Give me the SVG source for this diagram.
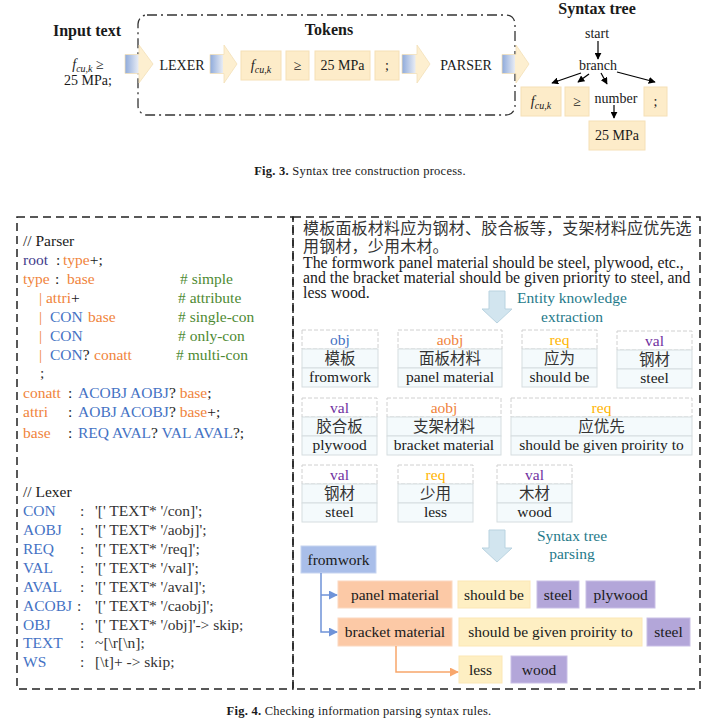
<svg xmlns="http://www.w3.org/2000/svg" width="707" height="721" viewBox="0 0 707 721">
<style>
text{font-family:"Liberation Serif","Noto Sans CJK SC",serif;fill:#1a1a1a}
.b{font-weight:bold}
.t14{font-size:14px}
.t15{font-size:15.5px}
.t16{font-size:16px}
.cap{font-size:12.5px;letter-spacing:0.25px}
.tok{fill:#FDECC9;stroke:#F5E0B6;stroke-width:1}
.blu{fill:#4472C4}.org{fill:#F0843C}.nav{fill:#3E3A8A}.grn{fill:#4E8A33}.gry{fill:#333}.gold{fill:#FFB400}.pur{fill:#7030A0}.teal{fill:#1F7A8A}
.hd{fill:#fff;stroke:#D0D0D0;stroke-dasharray:4,2;stroke-width:1}
.rw{fill:#F4FAFC;stroke:#D6DDE0;stroke-width:1}
.dn{fill:#D2E5EF;stroke:#B9D3E0;stroke-width:1}
.cn{fill:#A9BEE9;stroke:#C6D4F0}
.pe{fill:#FCC9A6;stroke:#FBD8C0}
.ye{fill:#FEEFC3;stroke:#FCE7B5}
.la{fill:#B3A6D9;stroke:#C9BFE6}
.c{text-anchor:middle}
.ga{fill:url(#ga);stroke:#F2DFB8;stroke-width:0.8}
</style>
<defs>
<linearGradient id="ga" x1="0" y1="0" x2="1" y2="0">
<stop offset="0" stop-color="#8EAADB"/>
<stop offset="0.46" stop-color="#E4E9F3"/>
<stop offset="0.5" stop-color="#FDEFD0"/>
<stop offset="1" stop-color="#FDEFD0"/>
</linearGradient>
<marker id="mk" viewBox="0 0 10 10" refX="9" refY="5" markerWidth="7" markerHeight="7" orient="auto-start-reverse" markerUnits="userSpaceOnUse"><path d="M0,0 L10,5 L0,10 z" fill="#000"/></marker>
<marker id="mb" viewBox="0 0 10 10" refX="9" refY="5" markerWidth="9" markerHeight="9" orient="auto" markerUnits="userSpaceOnUse"><path d="M0,0 L10,5 L0,10 z" fill="#6F93D8"/></marker>
<marker id="mo" viewBox="0 0 10 10" refX="9" refY="5" markerWidth="9" markerHeight="9" orient="auto" markerUnits="userSpaceOnUse"><path d="M0,0 L10,5 L0,10 z" fill="#F8A66B"/></marker>
</defs>

<!-- Fig 3 -->
<g id="fig3">
<g id="input-text">
<text x="87" y="36" class="b t16 c">Input text</text>
<text x="88" y="69" class="t14 c"><tspan font-style="italic">f</tspan><tspan font-style="italic" font-size="10" dy="3">cu,k</tspan><tspan dy="-3"> ≥</tspan></text>
<text x="88" y="85" class="t14 c">25 MPa;</text>
</g>
<g id="tokens-frame">
<rect x="138" y="15" width="377" height="100" rx="9" fill="none" stroke="#333" stroke-width="1.3" stroke-dasharray="10,4,2,4"/>
<text x="329" y="35" class="b t16 c">Tokens</text>
</g>
<g id="arrow1"><path class="ga" d="M125 54.5 H139 V45 L153 64 L139 83 V73.5 H125 Z"/></g>
<g id="lexer"><text x="182" y="70" class="t14 c">LEXER</text></g>
<g id="arrow2"><path class="ga" d="M210 54.5 H224 V45 L237 64 L224 83 V73.5 H210 Z"/></g>
<g id="tok-f"><rect class="tok" x="241" y="51" width="40" height="29"/><text x="261" y="70" class="t14 c"><tspan font-style="italic">f</tspan><tspan font-style="italic" font-size="10" dy="3">cu,k</tspan></text></g>
<g id="tok-ge"><rect class="tok" x="286" y="51" width="23" height="29"/><text x="297.5" y="70" class="t14 c">≥</text></g>
<g id="tok-25"><rect class="tok" x="315" y="51" width="55" height="29"/><text x="342.5" y="70" class="t14 c">25 MPa</text></g>
<g id="tok-semi"><rect class="tok" x="375" y="51" width="24" height="29"/><text x="387" y="70" class="t14 c">;</text></g>
<g id="arrow3"><path class="ga" d="M402 54.5 H417 V45 L430 64 L417 83 V73.5 H402 Z"/></g>
<g id="parser"><text x="466" y="70" class="t14 c">PARSER</text></g>
<g id="arrow4"><path class="ga" d="M502 54.5 H516 V45 L529 64 L516 83 V73.5 H502 Z"/></g>
<g id="syntax-tree-title"><text x="597" y="14" class="b t16 c">Syntax tree</text></g>
<g id="start"><text x="597" y="38" class="t14 c">start</text></g>
<g id="branch"><text x="598" y="70" class="t14 c">branch</text></g>
<g id="st-f"><rect class="tok" x="521" y="87" width="40" height="29"/><text x="541" y="106" class="t14 c"><tspan font-style="italic">f</tspan><tspan font-style="italic" font-size="10" dy="3">cu,k</tspan></text></g>
<g id="st-ge"><rect class="tok" x="565" y="87" width="24" height="29"/><text x="577" y="106" class="t14 c">≥</text></g>
<g id="st-number"><text x="616" y="103" class="t14 c">number</text></g>
<g id="st-semi"><rect class="tok" x="644" y="87" width="23" height="29"/><text x="655.5" y="106" class="t14 c">;</text></g>
<g id="st-25"><rect class="tok" x="589" y="121" width="56" height="29"/><text x="617" y="140" class="t14 c">25 MPa</text></g>
<g id="tree-connectors" stroke="#000" stroke-width="1.2" fill="none">
<line x1="598" y1="41" x2="598" y2="59" marker-end="url(#mk)"/>
<line x1="581" y1="73" x2="552" y2="83" marker-end="url(#mk)"/>
<line x1="589" y1="74" x2="578" y2="82" marker-end="url(#mk)"/>
<line x1="601" y1="73" x2="607" y2="84" marker-end="url(#mk)"/>
<line x1="617" y1="72" x2="655" y2="82" marker-end="url(#mk)"/>
<line x1="614" y1="105" x2="614" y2="118" marker-end="url(#mk)"/>
</g>
<text x="360" y="175" class="cap c"><tspan class="b">Fig. 3.</tspan>  Syntax tree construction process.</text>
</g>

<!-- Fig 4 left panel -->
<g id="grammar-panel">
<rect x="17" y="217" width="276" height="472" fill="none" stroke="#222" stroke-width="1.5" stroke-dasharray="8,5"/>
<g class="t15">
<text x="23" y="246">// Parser</text>
<text y="265"><tspan x="23" class="nav">root</tspan><tspan x="56">:</tspan><tspan x="63" class="org">type</tspan><tspan>+;</tspan></text>
<text y="284"><tspan x="23" class="org">type</tspan><tspan x="55">:</tspan><tspan x="67" class="org">base</tspan><tspan x="180" class="grn"># simple</tspan></text>
<text y="303"><tspan x="39" class="org">| attri</tspan><tspan>+</tspan><tspan x="178" class="grn"># attribute</tspan></text>
<text y="322"><tspan x="39" class="org">|</tspan><tspan x="50" class="blu">CON</tspan><tspan x="88" class="org">base</tspan><tspan x="178" class="grn"># single-con</tspan></text>
<text y="341"><tspan x="39" class="org">|</tspan><tspan x="50" class="blu">CON</tspan><tspan x="178" class="grn"># only-con</tspan></text>
<text y="360"><tspan x="39" class="org">|</tspan><tspan x="50" class="blu">CON</tspan><tspan>?</tspan><tspan x="94" class="org">conatt</tspan><tspan x="176" class="grn"># multi-con</tspan></text>
<text x="40" y="378" class="gry">;</text>
<text y="398"><tspan x="23" class="org">conatt</tspan><tspan x="68">:</tspan><tspan x="78" class="blu">ACOBJ AOBJ</tspan><tspan>? </tspan><tspan class="org">base</tspan><tspan>;</tspan></text>
<text y="417"><tspan x="23" class="org">attri</tspan><tspan x="68">:</tspan><tspan x="78" class="blu">AOBJ ACOBJ</tspan><tspan>? </tspan><tspan class="org">base</tspan><tspan>+;</tspan></text>
<text y="438"><tspan x="23" class="org">base</tspan><tspan x="68">:</tspan><tspan x="78" class="blu">REQ AVAL</tspan><tspan>? </tspan><tspan class="blu">VAL AVAL</tspan><tspan>?;</tspan></text>

<text x="23" y="497">// Lexer</text>
<text y="516"><tspan x="23" class="blu">CON</tspan><tspan x="80" class="gry">:</tspan><tspan x="95" class="gry">'[' TEXT* '/con]';</tspan></text>
<text y="535"><tspan x="23" class="blu">AOBJ</tspan><tspan x="80" class="gry">:</tspan><tspan x="95" class="gry">'[' TEXT* '/aobj]';</tspan></text>
<text y="554"><tspan x="23" class="blu">REQ</tspan><tspan x="80" class="gry">:</tspan><tspan x="95" class="gry">'[' TEXT* '/req]';</tspan></text>
<text y="573"><tspan x="23" class="blu">VAL</tspan><tspan x="80" class="gry">:</tspan><tspan x="95" class="gry">'[' TEXT* '/val]';</tspan></text>
<text y="592"><tspan x="23" class="blu">AVAL</tspan><tspan x="80" class="gry">:</tspan><tspan x="95" class="gry">'[' TEXT* '/aval]';</tspan></text>
<text y="611"><tspan x="23" class="blu">ACOBJ</tspan><tspan x="77" class="gry">:</tspan><tspan x="95" class="gry">'[' TEXT* '/caobj]';</tspan></text>
<text y="630"><tspan x="23" class="blu">OBJ</tspan><tspan x="80" class="gry">:</tspan><tspan x="95" class="gry">'[' TEXT* '/obj]'-&gt; skip;</tspan></text>
<text y="648"><tspan x="23" class="blu">TEXT</tspan><tspan x="80" class="gry">:</tspan><tspan x="95" class="gry">~[\r[\n];</tspan></text>
<text y="667"><tspan x="23" class="blu">WS</tspan><tspan x="80" class="gry">:</tspan><tspan x="95" class="gry">[\t]+ -&gt; skip;</tspan></text>
</g>
</g>

<!-- Fig 4 right panel -->
<g id="example-panel">
<rect x="293" y="217" width="407" height="472" fill="none" stroke="#222" stroke-width="1.5" stroke-dasharray="8,5"/>
<text x="303" y="234" class="t16 gry" letter-spacing="0.2">模板面板材料应为钢材、胶合板等，支架材料应优先选</text>
<text x="303" y="252" class="t16 gry" letter-spacing="0.2">用钢材，少用木材。</text>
<text x="303" y="268" font-size="15.8">The formwork panel material should be steel, plywood, etc.,</text>
<text x="303" y="283" font-size="15.8">and the bracket material should be given priority to steel, and</text>
<text x="303" y="298" font-size="15.8">less wood.</text>
</g>
<g id="down-arrow-1"><path class="dn" d="M489 291 H505 V309 H512 L497 323 L482 309 H489 Z"/></g>
<g id="label-extraction">
<text x="572" y="303" class="t15 c teal">Entity knowledge</text>
<text x="572" y="322" class="t15 c teal">extraction</text>
</g>

<g class="t15">
<g id="tbl-obj"><rect class="hd" x="302" y="330" width="76" height="19"/><rect class="rw" x="302" y="349" width="76" height="19"/><rect class="rw" x="302" y="368" width="76" height="19"/>
<text x="340" y="345" class="c blu">obj</text><text x="340" y="363.5" class="c gry">模板</text><text x="340" y="382" class="c">fromwork</text></g>
<g id="tbl-aobj1"><rect class="hd" x="398" y="330" width="104" height="19"/><rect class="rw" x="398" y="349" width="104" height="19"/><rect class="rw" x="398" y="368" width="104" height="19"/>
<text x="450" y="345" class="c org">aobj</text><text x="450" y="363.5" class="c gry">面板材料</text><text x="450" y="382" class="c">panel material</text></g>
<g id="tbl-req1"><rect class="hd" x="522" y="330" width="75" height="19"/><rect class="rw" x="522" y="349" width="75" height="19"/><rect class="rw" x="522" y="368" width="75" height="19"/>
<text x="559.5" y="345" class="c gold">req</text><text x="559.5" y="363.5" class="c gry">应为</text><text x="559.5" y="382" class="c">should be</text></g>
<g id="tbl-val1"><rect class="hd" x="617" y="331" width="75" height="19"/><rect class="rw" x="617" y="350" width="75" height="19"/><rect class="rw" x="617" y="369" width="75" height="19"/>
<text x="654.5" y="346" class="c pur">val</text><text x="654.5" y="364.5" class="c gry">钢材</text><text x="654.5" y="383" class="c">steel</text></g>

<g id="tbl-val2"><rect class="hd" x="302" y="398" width="75" height="19"/><rect class="rw" x="302" y="417" width="75" height="19"/><rect class="rw" x="302" y="436" width="75" height="19"/>
<text x="339.5" y="413" class="c pur">val</text><text x="339.5" y="431.5" class="c gry">胶合板</text><text x="339.5" y="450" class="c">plywood</text></g>
<g id="tbl-aobj2"><rect class="hd" x="387" y="398" width="114" height="19"/><rect class="rw" x="387" y="417" width="114" height="19"/><rect class="rw" x="387" y="436" width="114" height="19"/>
<text x="444" y="413" class="c org">aobj</text><text x="444" y="431.5" class="c gry">支架材料</text><text x="444" y="450" class="c">bracket material</text></g>
<g id="tbl-req2"><rect class="hd" x="511" y="398" width="181" height="19"/><rect class="rw" x="511" y="417" width="181" height="19"/><rect class="rw" x="511" y="436" width="181" height="19"/>
<text x="601.5" y="413" class="c gold">req</text><text x="601.5" y="431.5" class="c gry">应优先</text><text x="601.5" y="450" class="c">should be given proirity to</text></g>

<g id="tbl-val3"><rect class="hd" x="302" y="465" width="75" height="19"/><rect class="rw" x="302" y="484" width="75" height="19"/><rect class="rw" x="302" y="503" width="75" height="19"/>
<text x="339.5" y="480" class="c pur">val</text><text x="339.5" y="498.5" class="c gry">钢材</text><text x="339.5" y="517" class="c">steel</text></g>
<g id="tbl-req3"><rect class="hd" x="398" y="465" width="75" height="19"/><rect class="rw" x="398" y="484" width="75" height="19"/><rect class="rw" x="398" y="503" width="75" height="19"/>
<text x="435.5" y="480" class="c gold">req</text><text x="435.5" y="498.5" class="c gry">少用</text><text x="435.5" y="517" class="c">less</text></g>
<g id="tbl-val4"><rect class="hd" x="497" y="465" width="75" height="19"/><rect class="rw" x="497" y="484" width="75" height="19"/><rect class="rw" x="497" y="503" width="75" height="19"/>
<text x="534.5" y="480" class="c pur">val</text><text x="534.5" y="498.5" class="c gry">木材</text><text x="534.5" y="517" class="c">wood</text></g>
</g>

<g id="down-arrow-2"><path class="dn" d="M489 530 H505 V548 H512 L497 562 L482 548 H489 Z"/></g>
<g id="label-parsing">
<text x="572" y="541" class="t15 c teal">Syntax tree</text>
<text x="572" y="559" class="t15 c teal">parsing</text>
</g>

<g class="t15">
<g id="n-fromwork"><rect class="cn" x="301" y="546" width="75" height="27"/><text x="338.5" y="565" class="c">fromwork</text></g>
<g id="n-panel"><rect class="pe" x="338" y="581" width="114" height="27"/><text x="395" y="600" class="c">panel material</text></g>
<g id="n-shouldbe"><rect class="ye" x="458" y="581" width="72" height="27"/><text x="494" y="600" class="c">should be</text></g>
<g id="n-steel1"><rect class="la" x="537" y="581" width="42" height="27"/><text x="558" y="600" class="c">steel</text></g>
<g id="n-plywood"><rect class="la" x="586" y="581" width="69" height="27"/><text x="620.5" y="600" class="c">plywood</text></g>
<g id="n-bracket"><rect class="pe" x="338" y="618" width="114" height="28"/><text x="395" y="637" class="c">bracket material</text></g>
<g id="n-priority"><rect class="ye" x="459" y="618" width="183" height="28"/><text x="550.5" y="637" class="c">should be given proirity to</text></g>
<g id="n-steel2"><rect class="la" x="647" y="618" width="43" height="28"/><text x="668.5" y="637" class="c">steel</text></g>
<g id="n-less"><rect class="ye" x="459" y="656" width="43" height="27"/><text x="480.5" y="675" class="c">less</text></g>
<g id="n-wood"><rect class="la" x="511" y="656" width="56" height="27"/><text x="539" y="675" class="c">wood</text></g>
</g>

<g id="connectors" fill="none" stroke-width="1.5">
<path d="M321 573 V632 H337" stroke="#6F93D8" marker-end="url(#mb)"/>
<path d="M321 595 H337" stroke="#6F93D8" marker-end="url(#mb)"/>
<path d="M396 646 V672 H458" stroke="#F8A66B" marker-end="url(#mo)"/>
</g>

<text x="359" y="715" class="cap c"><tspan class="b">Fig. 4.</tspan>  Checking information parsing syntax rules.</text>
</svg>
